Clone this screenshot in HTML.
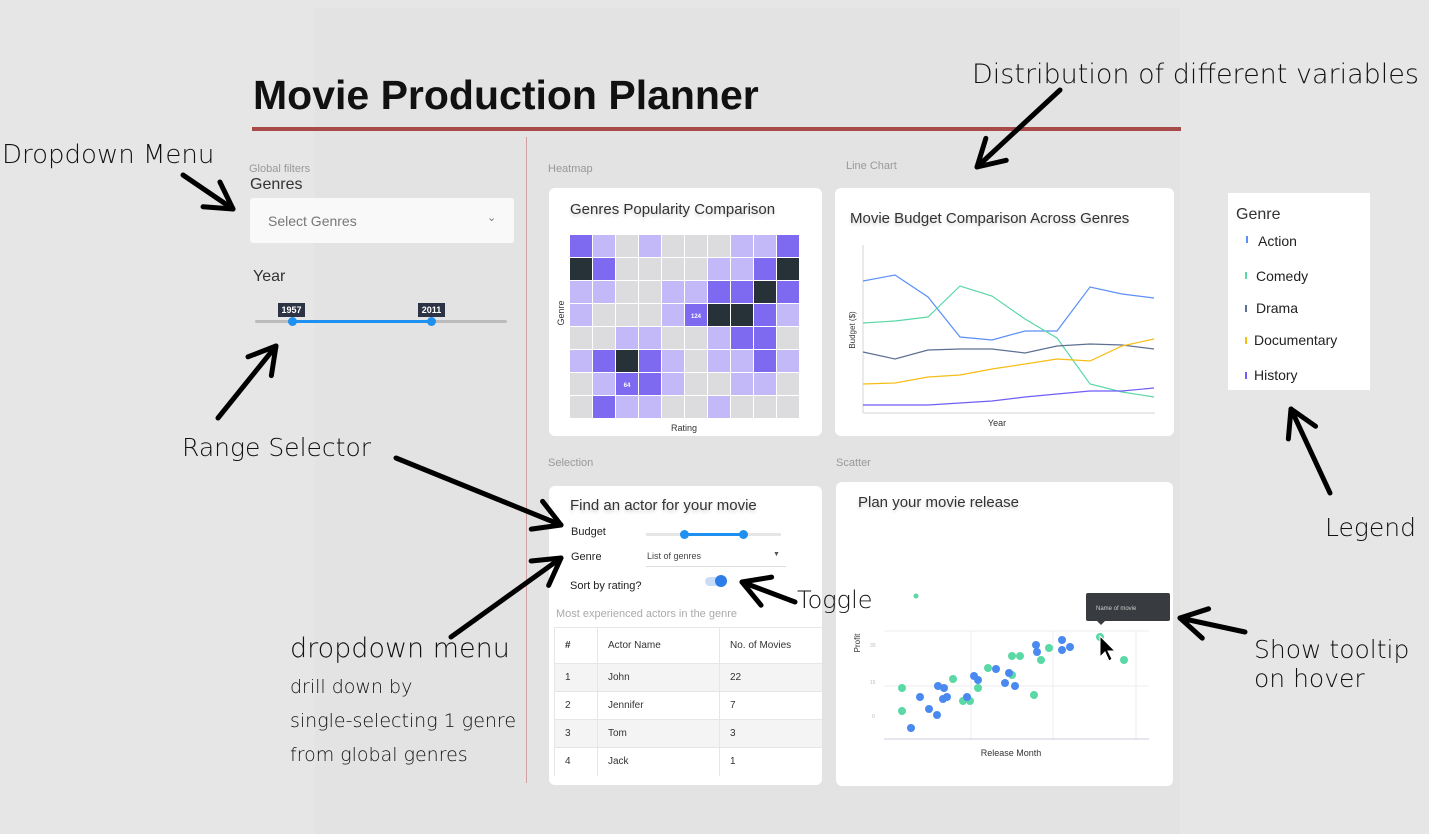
<!DOCTYPE html>
<html><head><meta charset="utf-8"><style>
*{margin:0;padding:0;box-sizing:border-box}
body{width:1429px;height:834px;background:#e6e6e6;position:relative;overflow:hidden;font-family:"Liberation Sans",sans-serif;color:#222}
.a{position:absolute;white-space:nowrap}
.card{position:absolute;background:#fff;border-radius:6px}
.sm{font-size:11px;color:#999}
.ct{font-size:15px;color:#333;text-shadow:0 2px 3px rgba(0,0,0,.2)}
td{border-right:1px solid #e6e6e6;border-bottom:1px solid #e6e6e6;font-size:10px;color:#333;padding-left:10px}
</style></head><body>
<div class="a" style="left:315px;top:8px;width:865px;height:826px;background:#e3e3e3"></div>
<div class="a" style="left:253px;top:72px;font-size:41px;font-weight:bold;color:#111">Movie Production Planner</div>
<div class="a" style="left:252px;top:127px;width:929px;height:4px;background:#a94a4a"></div>
<div class="a" style="left:526px;top:137px;width:1px;height:646px;background:#cfa0a0"></div>

<div class="a sm" style="left:249px;top:163px">Global filters</div>
<div class="a" style="left:250px;top:176px;font-size:16px;color:#333">Genres</div>
<div class="a" style="left:250px;top:198px;width:264px;height:45px;background:#f9f9f9;border-radius:3px"></div>
<div class="a" style="left:268px;top:213px;font-size:14px;color:#777">Select Genres</div>
<div class="a" style="left:487px;top:211px;font-size:11px;color:#777">&#8964;</div>
<div class="a" style="left:253px;top:268px;font-size:16px;color:#333">Year</div>
<div class="a" style="left:255px;top:320px;width:252px;height:3px;background:#bbb;border-radius:2px"></div>
<div class="a" style="left:292px;top:320px;width:139px;height:3px;background:#1e90f0"></div>
<div class="a" style="left:288px;top:317px;width:9px;height:9px;border-radius:50%;background:#1e90f0"></div>
<div class="a" style="left:427px;top:317px;width:9px;height:9px;border-radius:50%;background:#1e90f0"></div>
<div class="a" style="left:278px;top:303px;width:27px;height:14px;background:#2c3344;color:#fff;font-size:9px;font-weight:bold;text-align:center;line-height:14px">1957</div>
<div class="a" style="left:418px;top:303px;width:27px;height:14px;background:#2c3344;color:#fff;font-size:9px;font-weight:bold;text-align:center;line-height:14px">2011</div>

<div class="a sm" style="left:548px;top:163px">Heatmap</div>
<div class="a sm" style="left:846px;top:160px">Line Chart</div>
<div class="a sm" style="left:548px;top:457px">Selection</div>
<div class="a sm" style="left:836px;top:457px">Scatter</div>

<div class="card" style="left:549px;top:188px;width:273px;height:248px"></div>
<div class="card" style="left:835px;top:188px;width:339px;height:248px"></div>
<div class="card" style="left:549px;top:486px;width:273px;height:299px"></div>
<div class="card" style="left:836px;top:482px;width:337px;height:304px"></div>
<div class="a" style="left:1228px;top:193px;width:142px;height:197px;background:#fff"></div>

<div class="a ct" style="left:570px;top:201px">Genres Popularity Comparison</div>
<div class="a ct" style="left:850px;top:210px">Movie Budget Comparison Across Genres</div>
<div class="a ct" style="left:570px;top:497px">Find an actor for your movie</div>
<div class="a ct" style="left:858px;top:494px">Plan your movie release</div>

<div class="a" style="left:1236px;top:206px;font-size:16px;color:#333">Genre</div>
<div class="a" style="left:1246px;top:236px;width:2px;height:7px;background:#5b8ff9"></div>
<div class="a" style="left:1258px;top:233px;font-size:14px">Action</div>
<div class="a" style="left:1245px;top:272px;width:2px;height:7px;background:#5ad8a6"></div>
<div class="a" style="left:1256px;top:268px;font-size:14px">Comedy</div>
<div class="a" style="left:1245px;top:305px;width:2px;height:7px;background:#5d7092"></div>
<div class="a" style="left:1256px;top:300px;font-size:14px">Drama</div>
<div class="a" style="left:1245px;top:337px;width:2px;height:7px;background:#f6bd16"></div>
<div class="a" style="left:1254px;top:332px;font-size:14px">Documentary</div>
<div class="a" style="left:1245px;top:372px;width:2px;height:7px;background:#6f5ef9"></div>
<div class="a" style="left:1254px;top:367px;font-size:14px">History</div>

<div class="a" style="left:571px;top:526px;font-size:11px">Budget</div>
<div class="a" style="left:646px;top:533px;width:135px;height:3px;background:#e6e6e6"></div>
<div class="a" style="left:684px;top:533px;width:59px;height:3px;background:#1e90f0"></div>
<div class="a" style="left:680px;top:530px;width:9px;height:9px;border-radius:50%;background:#1e90f0"></div>
<div class="a" style="left:739px;top:530px;width:9px;height:9px;border-radius:50%;background:#1e90f0"></div>
<div class="a" style="left:571px;top:551px;font-size:11px">Genre</div>
<div class="a" style="left:647px;top:551px;font-size:9px;color:#444">List of genres</div>
<div class="a" style="left:773px;top:551px;font-size:7px;color:#555">&#9660;</div>
<div class="a" style="left:646px;top:566px;width:140px;height:1px;background:#ddd"></div>
<div class="a" style="left:570px;top:580px;font-size:11px">Sort by rating?</div>
<div class="a" style="left:705px;top:577px;width:22px;height:9px;border-radius:5px;background:#c9dcf7"></div>
<div class="a" style="left:715px;top:575px;width:12px;height:12px;border-radius:50%;background:#2d7de8"></div>
<div class="a" style="left:556px;top:608px;font-size:11px;color:#aaa">Most experienced actors in the genre</div>
<table class="a" style="left:554px;top:627px;width:268px;border-collapse:collapse;border-top:1px solid #e6e6e6;border-left:1px solid #e6e6e6">
<tr style="height:36px"><td style="width:43px;font-weight:bold">#</td><td style="width:122px">Actor Name</td><td style="border-right:none">No. of Movies</td></tr>
<tr style="height:28px;background:#f4f4f4"><td>1</td><td>John</td><td style="border-right:none">22</td></tr>
<tr style="height:28px"><td>2</td><td>Jennifer</td><td style="border-right:none">7</td></tr>
<tr style="height:28px;background:#f4f4f4"><td>3</td><td>Tom</td><td style="border-right:none">3</td></tr>
<tr style="height:28px"><td style="border-bottom:none">4</td><td style="border-bottom:none">Jack</td><td style="border:none">1</td></tr>
</table>

<svg class="a" style="left:0;top:0" width="1429" height="834" font-family="Liberation Sans, sans-serif">
<defs><marker id="h" markerUnits="userSpaceOnUse" markerWidth="40" markerHeight="40" viewBox="0 0 40 40" refX="35" refY="20" orient="auto"><path d="M9,5 L35,20 L9,35" fill="none" stroke="#000" stroke-width="5" stroke-linecap="round" stroke-linejoin="round"/></marker></defs>
<g id="hm"></g>
<g fill="none" stroke-width="1.2">
<line x1="863" y1="245" x2="863" y2="413" stroke="#ddd"/><line x1="863" y1="413" x2="1155" y2="413" stroke="#ddd"/>
<polyline stroke="#5b8ff9" points="863,281 895,275 928,297 960,337 992,340 1025,331 1057,331 1090,287 1122,294 1154,298"/>
<polyline stroke="#5ad8a6" points="863,323 895,321 928,317 960,286 992,296 1025,319 1057,338 1090,384 1122,392 1154,397"/>
<polyline stroke="#5d7092" points="863,352 895,359 928,350 960,349 992,349 1025,353 1057,346 1090,344 1122,345 1154,349"/>
<polyline stroke="#f6bd16" points="863,384 895,383 928,377 960,375 992,369 1025,364 1057,359 1090,361 1122,346 1154,339"/>
<polyline stroke="#6f5ef9" points="863,405 895,405 928,405 960,403 992,401 1025,397 1057,394 1090,391 1122,391 1154,388"/>
</g>
<text x="997" y="426" font-size="9" fill="#333" text-anchor="middle">Year</text>
<text transform="translate(855,330) rotate(-90)" font-size="8" fill="#333" text-anchor="middle">Budget ($)</text>
<text x="684" y="431" font-size="9" fill="#333" text-anchor="middle">Rating</text>
<text transform="translate(564,313) rotate(-90)" font-size="9" fill="#333" text-anchor="middle">Genre</text>
<g stroke="#eceef2" stroke-width="1">
<line x1="884" y1="631" x2="1149" y2="631"/><line x1="884" y1="686" x2="1149" y2="686"/>
<line x1="971" y1="631" x2="971" y2="739"/><line x1="1053" y1="631" x2="1053" y2="739"/><line x1="1136" y1="631" x2="1136" y2="739"/>
</g>
<line x1="884" y1="739" x2="1149" y2="739" stroke="#ccd" />
<text x="870" y="647" font-size="5" fill="#bbb">30</text><text x="870" y="684" font-size="5" fill="#bbb">15</text><text x="872" y="718" font-size="5" fill="#bbb">0</text>
<text transform="translate(860,643) rotate(-90)" font-size="8" fill="#333" text-anchor="middle">Profit</text>
<text x="1011" y="756" font-size="9" fill="#333" text-anchor="middle">Release Month</text>
<g fill="#5ad8a6">
<circle cx="902" cy="688" r="4"/><circle cx="902" cy="711" r="4"/><circle cx="953" cy="679" r="4"/><circle cx="963" cy="701" r="4"/><circle cx="970" cy="701" r="4"/><circle cx="978" cy="688" r="4"/><circle cx="988" cy="668" r="4"/><circle cx="1012" cy="656" r="4"/><circle cx="1020" cy="656" r="4"/><circle cx="1012" cy="675" r="4"/><circle cx="1034" cy="695" r="4"/><circle cx="1041" cy="660" r="4"/><circle cx="1049" cy="648" r="4"/><circle cx="1100" cy="637" r="4"/><circle cx="1124" cy="660" r="4"/><circle cx="916" cy="596" r="2.5"/>
</g>
<g fill="#4a89f0">
<circle cx="911" cy="728" r="4"/><circle cx="920" cy="697" r="4"/><circle cx="929" cy="709" r="4"/><circle cx="937" cy="715" r="4"/><circle cx="938" cy="686" r="4"/><circle cx="944" cy="688" r="4"/><circle cx="943" cy="699" r="4"/><circle cx="947" cy="697" r="4"/><circle cx="967" cy="697" r="4"/><circle cx="974" cy="676" r="4"/><circle cx="978" cy="680" r="4"/><circle cx="996" cy="669" r="4"/><circle cx="1005" cy="683" r="4"/><circle cx="1009" cy="673" r="4"/><circle cx="1015" cy="686" r="4"/><circle cx="1036" cy="645" r="4"/><circle cx="1037" cy="652" r="4"/><circle cx="1062" cy="640" r="4"/><circle cx="1062" cy="650" r="4"/><circle cx="1070" cy="647" r="4"/>
</g>
<rect x="1086" y="593" width="84" height="28" rx="2" fill="#383c40"/>
<path d="M1097,621 L1101,625 L1105,621Z" fill="#383c40"/>
<text x="1096" y="610" font-size="6" fill="#ccc">Name of movie</text>
<path d="M1100,636 L1100,657 L1105,652 L1109,661 L1112,659 L1108,651 L1115,651Z" fill="#000" stroke="#fff" stroke-width="1"/>
<g stroke="#000" stroke-width="5" stroke-linecap="round" fill="none" marker-end="url(#h)">
<line x1="183" y1="175" x2="233" y2="209"/>
<line x1="1060" y1="90" x2="977" y2="167"/>
<line x1="218" y1="418" x2="276" y2="346"/>
<line x1="396" y1="458" x2="561" y2="525"/>
<line x1="451" y1="637" x2="561" y2="558"/>
<line x1="795" y1="602" x2="742" y2="582"/>
<line x1="1330" y1="493" x2="1291" y2="409"/>
<line x1="1245" y1="632" x2="1180" y2="618"/>
</g>
<g font-family="DejaVu Sans, sans-serif" font-weight="200" fill="#111">
<text x="2" y="163" font-size="26">Dropdown Menu</text>
<text x="972" y="83" font-size="27">Distribution of different variables</text>
<text x="182" y="456" font-size="25">Range Selector</text>
<text x="797" y="608" font-size="24">Toggle</text>
<text x="1325" y="536" font-size="25">Legend</text>
<text x="1254" y="658" font-size="25">Show tooltip</text>
<text x="1254" y="687" font-size="25">on hover</text>
<text x="290" y="657" font-size="27">dropdown menu</text>
<text x="290" y="693" font-size="19">drill down by</text>
<text x="290" y="727" font-size="19">single-selecting 1 genre</text>
<text x="290" y="761" font-size="19">from global genres</text>
</g>
</svg>
<script>
var rows=["DLGLGGGLLD","KDGGGGLLDK","LLGGLLDDKD","LGGGLDKKDL","GGLLGGLDDG","LDKDLGLLDL","GLDDLGGLLG","GDLLGGLGGG"];
var col={D:"#7d6af0",L:"#c3b8f8",G:"#dcdcdf",K:"#263238"};
var s="";
for(var r=0;r<8;r++)for(var c=0;c<10;c++){s+='<rect x="'+(570+c*23)+'" y="'+(235+r*23)+'" width="22" height="22" fill="'+col[rows[r][c]]+'"/>';}
s+='<text x="696" y="318" font-size="6" fill="#fff" text-anchor="middle" font-weight="bold">124</text>';
s+='<text x="627" y="387" font-size="6" fill="#fff" text-anchor="middle" font-weight="bold">64</text>';
document.getElementById("hm").innerHTML=s;
</script>
</body></html>
